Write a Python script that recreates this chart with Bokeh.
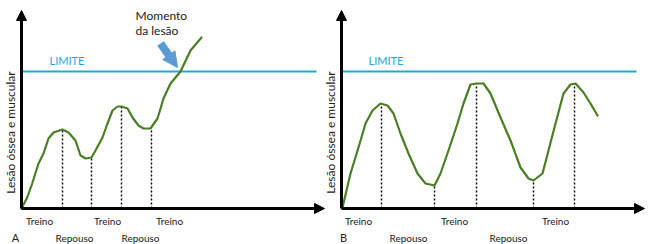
import numpy as np
from bokeh.plotting import figure
from bokeh.models import Range1d, Arrow, NormalHead
from bokeh.core.properties import value
from bokeh.embed import file_html
from bokeh.resources import INLINE

# ---------------- data (time units along x, load units along y) ----------------
LIMIT = 137

# Panel A: load rises with insufficient rest and crosses the limit
a_t = [0, 5.7, 10.7, 17, 22, 27, 32, 41, 47, 54, 59, 64, 70, 74, 81, 86, 91, 96,
       100, 106, 111, 117, 122, 129, 136, 142, 149, 159, 169, 180]
a_load = [0, 11, 25, 45, 55, 70, 76, 79, 76, 68, 53, 50, 51, 58, 71, 85, 98, 102,
          102, 100, 91, 83, 80, 80, 90, 110, 125, 137, 158, 171]
a_mark_t = [41, 70, 100, 130]
a_mark_load = [79, 51, 102, 80]

# Panel B: adequate rest, load stays under the limit
b_t = [1, 9, 17, 24, 31, 39, 46, 52, 59, 67, 76, 84, 93, 99, 107, 116, 122, 129,
       135, 142, 149, 159, 169, 179, 187, 192, 201, 207, 214, 222, 229, 234, 242,
       249, 256]
b_load = [1, 35, 61, 85, 98, 105, 103, 95, 75, 55, 35, 25, 23, 35, 58, 85, 105,
          124, 125, 125, 115, 91, 68, 41, 30, 28, 35, 58, 85, 115, 124, 125, 116,
          105, 93]
b_mark_t = [40, 93, 135, 192, 233]
b_mark_load = [105, 23, 125, 28, 125]

# tick-like labels
a_treino_t = [18, 86, 148]
a_repouso_t = [53, 119]
b_treino_t = [17, 113, 214]
b_repouso_t = [67, 167]
treino_label = "Treino"
repouso_label = "Repouso"
y_label = "Lesão óssea e muscular"
limit_label = "LIMITE"
injury_label = ["Momento", "da lesão"]
panel_labels = ["A", "B"]
injury_arrow_from = (139, 165)
injury_arrow_to = (156, 141)

FONT = value("Lato")
GREEN = "#4B7F26"
CYAN = "#1EA8DF"
ARROW_BLUE = "#5B9BD5"
TEXT = "#222222"
AXIS_TOP = 198
AXIS_RIGHT = 303
B_OFFSET = 320  # panel B drawn to the right of panel A

p = figure(width=650, height=244, output_backend="svg", toolbar_location=None,
           x_range=Range1d(-21, 629), y_range=Range1d(-36, 208),
           min_border=0, min_border_left=0, min_border_right=0,
           min_border_top=0, min_border_bottom=0)
p.axis.visible = False
p.grid.visible = False
p.outline_line_color = None
p.background_fill_color = "white"
p.border_fill_color = "white"


def draw_panel(off, t, load, mark_t, mark_load, treino_t, repouso_t, letter, letter_x,
               limit_text_x):
    sh = lambda xs: [x + off for x in xs]
    # limit line
    p.line(sh([0, AXIS_RIGHT - 8]), [LIMIT, LIMIT], line_color=CYAN, line_width=2)
    p.text(sh([limit_text_x]), [LIMIT + 11], text=[limit_label], text_font=FONT,
           text_font_size="11px", text_color=CYAN, text_align="left",
           text_baseline="middle")
    # dotted markers
    p.segment(sh(mark_t), [0] * len(mark_t), sh(mark_t), mark_load, line_color="black",
              line_width=1.4, line_dash="2 2")
    # curve
    p.line(sh(t), load, line_color=GREEN, line_width=2.2, line_join="round",
           line_cap="round")
    # axes with arrow heads
    p.add_layout(Arrow(end=NormalHead(size=10, fill_color="black", line_color="black"),
                       x_start=off, y_start=0, x_end=off, y_end=AXIS_TOP,
                       line_color="black", line_width=3))
    p.add_layout(Arrow(end=NormalHead(size=10, fill_color="black", line_color="black"),
                       x_start=off, y_start=0, x_end=off + AXIS_RIGHT, y_end=0,
                       line_color="black", line_width=3))
    # labels
    p.text(sh(treino_t), [-12] * len(treino_t), text=[treino_label] * len(treino_t),
           text_font=FONT, text_font_size="10px", text_color=TEXT,
           text_align="center", text_baseline="middle")
    p.text(sh(repouso_t), [-29] * len(repouso_t), text=[repouso_label] * len(repouso_t),
           text_font=FONT, text_font_size="10px", text_color=TEXT,
           text_align="center", text_baseline="middle")
    p.text(sh([letter_x]), [-29], text=[letter], text_font=FONT, text_font_size="11px",
           text_color=TEXT, text_align="center", text_baseline="middle")
    p.text(sh([-11]), [76], text=[y_label], text_font=FONT, text_font_size="12px",
           text_color=TEXT, text_align="center", text_baseline="middle",
           angle=np.pi / 2)


draw_panel(0, a_t, a_load, a_mark_t, a_mark_load, a_treino_t, a_repouso_t,
           panel_labels[0], -6, 28)
p.text([114, 114], [193, 178], text=injury_label, text_font=FONT, text_font_size="12px",
       text_color=TEXT, text_align="left", text_baseline="middle")
p.add_layout(Arrow(end=NormalHead(size=15, fill_color=ARROW_BLUE, line_color=ARROW_BLUE),
                   x_start=injury_arrow_from[0], y_start=injury_arrow_from[1],
                   x_end=injury_arrow_to[0], y_end=injury_arrow_to[1],
                   line_color=ARROW_BLUE, line_width=8))

draw_panel(B_OFFSET, b_t, b_load, b_mark_t, b_mark_load, b_treino_t, b_repouso_t,
           panel_labels[1], 2, 27)

open("out.html", "w").write(file_html(p, INLINE))
